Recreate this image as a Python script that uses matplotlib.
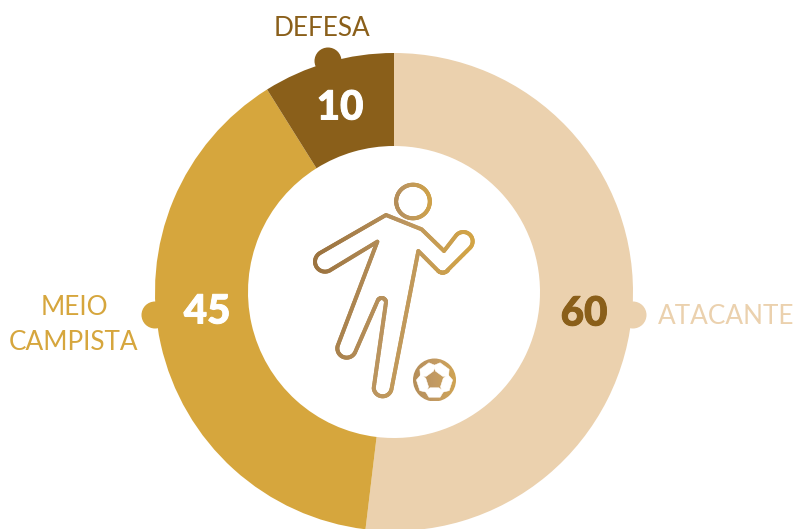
import numpy as np
import matplotlib
matplotlib.use('Agg')
import matplotlib.pyplot as plt
import matplotlib.patheffects as pe
from matplotlib.collections import LineCollection
from matplotlib.colors import LinearSegmentedColormap
from matplotlib.patches import Circle, Polygon

posicoes = ['ATACANTE', 'MEIO\nCAMPISTA', 'DEFESA']
jogadores = [60, 45, 10]
# tamanho das fatias como aparece na imagem
fatias = [60, 45.3, 10.3]
cores = ['#EBD1AE', '#D6A63D', '#8A5F1A']
cores_valor = ['#8A5F1A', 'white', 'white']

W, H = 797, 529
cx, cy, R, r = 394, 292, 239, 146

fig = plt.figure(figsize=(W / 100, H / 100), dpi=100)
ax = fig.add_axes([0, 0, 1, 1])

# y invertido: sentido anti-horario do pie aparece horario na tela
ax.pie(fatias, colors=cores, startangle=-90, center=(cx, cy), radius=R,
       wedgeprops={'width': R - r, 'linewidth': 0})

# bolinhas e textos
pos_bolinha = [(633, 315), (155, 315), (328, 61)]
pos_nome = [(726, 317), (74, 325), (322, 29)]
pos_valor = [(584, 314), (207, 312), (340, 108)]
for i in range(3):
    ax.add_patch(Circle(pos_bolinha[i], 13.5, color=cores[i], lw=0, zorder=1))
    ax.text(*pos_nome[i], posicoes[i], color=cores[i], fontsize=18.8, family='Lato',
            ha='center', va='center', linespacing=1.5)
    ax.text(*pos_valor[i], str(jogadores[i]), color=cores_valor[i], fontsize=29,
            family='Lato', weight='black', ha='center', va='center',
            path_effects=[pe.withStroke(linewidth=0.7, foreground=cores_valor[i])])

grad = LinearSegmentedColormap.from_list('ouro', ['#9C7440', '#BC9660', '#D6A640'])


def arco(x, y, raio, a0, a1):
    angs = np.deg2rad(np.linspace(a0, a1, 24))
    return list(zip(x + raio * np.cos(angs), y + raio * np.sin(angs)))


corpo = [(288, 135), (395, 178), (462, 243)]
corpo += arco(520, 214, 28, -143, 45)
corpo += arco(458, 288, 20, 30, 135)
corpo += [(385, 243)]
corpo += arco(278, 652, 27, 10, 175)
corpo += arco(275, 397, 13, 0, -155)
corpo += arco(170, 535, 28, 25, 195)
corpo += [(262, 215)]
corpo += arco(105, 275, 30, 60, 240)
corpo += [(288, 135)]
pts = np.array(corpo) / 3 + (290, 170)

# subdivide para o gradiente ficar continuo
finos = [pts[0]]
for a, b in zip(pts[:-1], pts[1:]):
    n = max(int(np.hypot(*(b - a)) / 2), 1)
    for t in np.linspace(0, 1, n + 1)[1:]:
        finos.append(a + (b - a) * t)
finos = np.array(finos)
segs = np.stack([finos[:-1], finos[1:]], axis=1)
t = np.clip((segs[:, 0, 0] - 315) / 160 + (segs[:, 0, 1] - 290) / 900, 0, 1)
ax.add_collection(LineCollection(segs, colors=grad(t), linewidths=2.9, capstyle='round',
                                 joinstyle='round', zorder=3))

# cabeca
ang = np.linspace(0, 2 * np.pi, 120)
cab = np.c_[413 + 16.8 * np.cos(ang), 201.5 + 16.8 * np.sin(ang)]
segs = np.stack([cab[:-1], cab[1:]], axis=1)
ax.add_collection(LineCollection(segs, colors=grad(np.clip((segs[:, 0, 0] - 370) / 70, 0, 1)),
                                 linewidths=2.9, capstyle='round', zorder=3))

# bola
bx, by, br = 434.5, 380, 21.5
gx = np.linspace(0, 1, 64).reshape(1, -1)
img = ax.imshow(gx, cmap=LinearSegmentedColormap.from_list('b', ['#B58E58', '#C29A63', '#CFA352']),
                extent=(bx - br, bx + br, by + br, by - br), aspect='auto', zorder=3)
img.set_clip_path(Circle((bx, by), br, transform=ax.transData))
# gomo branco com a base virada para o centro, girado em volta da bola
gomo = np.array([(-4.4, 7.8), (4.4, 7.8), (9.2, 11.2), (5.6, 17.2), (-5.6, 17.2), (-9.2, 11.2)])
for k in range(5):
    da = np.deg2rad(72 * k)
    rot = np.array([[np.cos(da), -np.sin(da)], [np.sin(da), np.cos(da)]])
    ax.add_patch(Polygon(gomo @ rot.T + (bx, by), closed=True, fc='white', ec='white',
                         lw=0.4, joinstyle='round', zorder=4))

ax.set_xlim(0, W)
ax.set_ylim(H, 0)
ax.set_aspect('auto')
ax.axis('off')
fig.savefig('out.png', dpi=100)
